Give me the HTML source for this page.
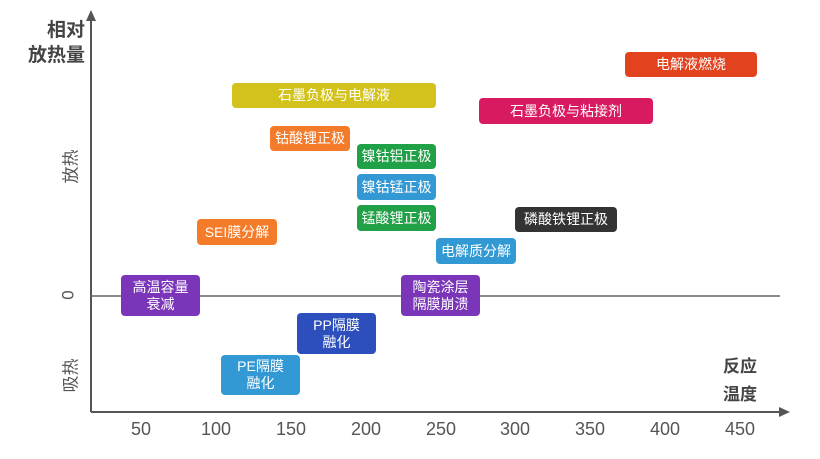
<!DOCTYPE html>
<html><head><meta charset="utf-8"><style>
body{margin:0;width:820px;height:459px;background:#fff;position:relative;overflow:hidden;font-family:"Liberation Sans","Noto Sans CJK SC",sans-serif}
.b{position:absolute;border-radius:4px;color:#fff;font-size:14px;display:flex;align-items:center;justify-content:center;text-align:center;line-height:17px}
.t{position:absolute;font-size:18px;color:#555;width:60px;text-align:center;top:419px}
.r{position:absolute;transform:rotate(-90deg);color:#555;font-size:17px}
</style></head><body>
<svg width="820" height="459" style="position:absolute;left:0;top:0">
<line x1="91" y1="412" x2="91" y2="18" stroke="#555" stroke-width="2"/>
<polygon points="91,10 86,21 96,21" fill="#555"/>
<line x1="91" y1="412" x2="782" y2="412" stroke="#555" stroke-width="2"/>
<polygon points="790,412 779,407 779,417" fill="#555"/>
<line x1="91" y1="296" x2="780" y2="296" stroke="#666" stroke-width="1.5"/>
</svg>
<div style="position:absolute;left:20px;top:18px;font-size:19px;font-weight:bold;color:#444;line-height:25px;text-align:right;width:65px">相对<br>放热量</div>
<div style="position:absolute;left:712px;top:353px;font-size:17px;font-weight:bold;color:#444;line-height:28px;text-align:right;width:45px">反应<br>温度</div>
<div class="r" style="left:52px;top:154px">放热</div>
<div class="r" style="left:64px;top:285px">0</div>
<div class="r" style="left:52px;top:363px">吸热</div>
<div class="t" style="left:111px">50</div><div class="t" style="left:186px">100</div><div class="t" style="left:261px">150</div><div class="t" style="left:336px">200</div><div class="t" style="left:411px">250</div><div class="t" style="left:485px">300</div><div class="t" style="left:560px">350</div><div class="t" style="left:635px">400</div><div class="t" style="left:710px">450</div>
<div class="b" style="left:625px;top:52px;width:132px;height:25px;background:#e2431e">电解液燃烧</div>
<div class="b" style="left:232px;top:83px;width:204px;height:25px;background:#d2c21b">石墨负极与电解液</div>
<div class="b" style="left:479px;top:98px;width:174px;height:26px;background:#d81b60">石墨负极与粘接剂</div>
<div class="b" style="left:270px;top:126px;width:80px;height:25px;background:#f47b2a">钴酸锂正极</div>
<div class="b" style="left:357px;top:144px;width:79px;height:25px;background:#20a047">镍钴铝正极</div>
<div class="b" style="left:357px;top:174px;width:79px;height:26px;background:#3399d4">镍钴锰正极</div>
<div class="b" style="left:357px;top:205px;width:79px;height:26px;background:#20a047">锰酸锂正极</div>
<div class="b" style="left:515px;top:207px;width:102px;height:25px;background:#333">磷酸铁锂正极</div>
<div class="b" style="left:197px;top:219px;width:80px;height:26px;background:#f47b2a">SEI膜分解</div>
<div class="b" style="left:436px;top:238px;width:80px;height:26px;background:#3399d4">电解质分解</div>
<div class="b" style="left:121px;top:275px;width:79px;height:41px;background:#7a35b8">高温容量<br>衰减</div>
<div class="b" style="left:401px;top:275px;width:79px;height:41px;background:#7a35b8">陶瓷涂层<br>隔膜崩溃</div>
<div class="b" style="left:297px;top:313px;width:79px;height:41px;background:#2c4fbd">PP隔膜<br>融化</div>
<div class="b" style="left:221px;top:355px;width:79px;height:40px;background:#3399d4">PE隔膜<br>融化</div>
</body></html>
